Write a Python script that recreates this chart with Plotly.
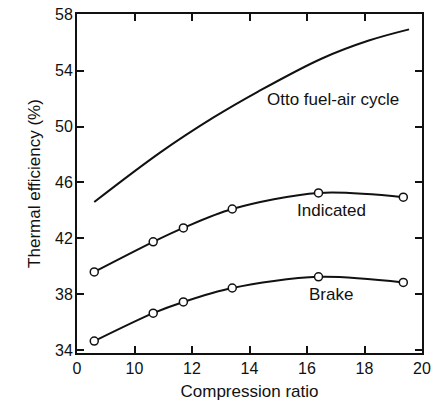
import plotly.graph_objects as go

# Data
ratio_pts = [8.6, 10.65, 11.7, 13.4, 16.4, 19.35]
indicated = [39.6, 41.75, 42.75, 44.1, 45.25, 44.95]
brake = [34.65, 36.65, 37.45, 38.45, 39.25, 38.85]

otto_x = [8.6, 10.9, 12.75, 14.3, 16.5, 18.15, 19.55]
otto_y = [44.6, 48.15, 50.65, 52.5, 54.85, 56.15, 56.95]

x_tickvals = [8, 10, 12, 14, 16, 18, 20]
x_ticktext = ["0", "10", "12", "14", "16", "18", "20"]
y_tickvals = [34, 38, 42, 46, 50, 54, 58]

labels = ["Otto fuel-air cycle", "Indicated", "Brake"]
label_x = [16.9, 16.85, 16.85]
label_y = [51.9, 44.0, 38.0]

FONT = "Liberation Sans, Arial, sans-serif"
INK = "#111"

fig = go.Figure()
fig.add_trace(go.Scatter(x=otto_x, y=otto_y, mode="lines",
                         line=dict(color=INK, width=2, shape="spline", smoothing=1.0),
                         showlegend=False))
for ys in (indicated, brake):
    fig.add_trace(go.Scatter(x=ratio_pts, y=ys, mode="lines+markers",
                             line=dict(color=INK, width=2, shape="spline", smoothing=0.9),
                             marker=dict(symbol="circle", size=8, color="white",
                                         line=dict(color=INK, width=1.5)),
                             showlegend=False))

for t, x, y in zip(labels, label_x, label_y):
    fig.add_annotation(x=x, y=y, text=t, showarrow=False,
                       font=dict(size=17, color=INK, family=FONT))

axis_common = dict(showline=True, linecolor=INK, linewidth=2, mirror="ticks",
                   ticks="inside", ticklen=7, tickwidth=1.5, tickcolor=INK,
                   showgrid=False, zeroline=False, automargin=False,
                   tickfont=dict(size=16, color=INK, family=FONT))

fig.update_xaxes(range=[8, 20], tickmode="array", tickvals=x_tickvals, ticktext=x_ticktext,
                 title=dict(text="Compression ratio", standoff=9,
                            font=dict(size=17, color=INK, family=FONT)),
                 **axis_common)
fig.update_yaxes(range=[33.8, 58.05], tickmode="array", tickvals=y_tickvals,
                 ticklabelstandoff=-1,
                 title=dict(text="Thermal efficiency (%)", standoff=10,
                            font=dict(size=17, color=INK, family=FONT)),
                 **axis_common)

fig.update_layout(width=438, height=401, margin=dict(l=77, r=16, t=14, b=48),
                  plot_bgcolor="white", paper_bgcolor="white")

fig.write_html("out.html")
